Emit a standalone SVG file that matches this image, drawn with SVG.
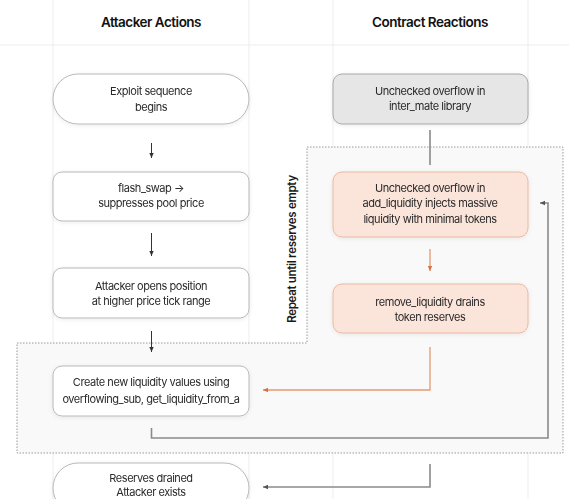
<svg xmlns="http://www.w3.org/2000/svg" width="569" height="499" viewBox="0 0 569 499">
<style>
.hdr{font-family:Inter,"Liberation Sans",sans-serif;font-size:13.5px;font-weight:600;fill:#111;text-anchor:middle;letter-spacing:-0.5px}
.t{font-family:Inter,"Liberation Sans",sans-serif;font-size:11px;fill:#2a2a2a;text-anchor:middle;letter-spacing:-0.45px}
.grid{stroke:#ededed;stroke-width:1;fill:none}
.w{fill:#fff;stroke:#b9b9b9;stroke-width:1}
.g{fill:#e6e6e6;stroke:#a8a8a8;stroke-width:1}
.o{fill:#fbe4da;stroke:#eab8a2;stroke-width:1}
.c{stroke:#333;stroke-width:1;fill:none}
.cg{stroke:#8a8a8a;stroke-width:1.6;fill:none}
.co{stroke:#e39a72;stroke-width:1.3;fill:none}
.rep{font-family:Inter,"Liberation Sans",sans-serif;font-size:11.5px;font-weight:600;fill:#1a1a1a;text-anchor:middle;letter-spacing:-0.3px}
</style>
<defs>
<marker id="ad" markerWidth="6" markerHeight="6" refX="5" refY="3" orient="auto" markerUnits="userSpaceOnUse"><path d="M0,0.8 L5,3 L0,5.2 Z" fill="#333"/></marker>
<marker id="ag" markerWidth="6" markerHeight="6" refX="5" refY="3" orient="auto" markerUnits="userSpaceOnUse"><path d="M0,0.8 L5,3 L0,5.2 Z" fill="#555"/></marker>
<marker id="ao" markerWidth="6" markerHeight="6" refX="5" refY="3" orient="auto" markerUnits="userSpaceOnUse"><path d="M0,0.8 L5,3 L0,5.2 Z" fill="#d9703f"/></marker>
<filter id="sh" x="-10%" y="-20%" width="120%" height="140%"><feDropShadow dx="0" dy="1" stdDeviation="2" flood-color="#000" flood-opacity="0.08"/></filter>
</defs>
<rect width="569" height="499" fill="#fff"/>
<g id="grid">
<line class="grid" x1="0" y1="45" x2="569" y2="45"/>
<line class="grid" x1="53" y1="0" x2="53" y2="499"/>
<line class="grid" x1="249" y1="0" x2="249" y2="499"/>
<line class="grid" x1="333" y1="0" x2="333" y2="499"/>
<line class="grid" x1="528" y1="0" x2="528" y2="499"/>
</g>
<g id="loop-region">
<path d="M307,147 H563 V453 H17 V343 H307 Z" fill="#f9f9f9" stroke="#9a9a9a" stroke-width="1" stroke-dasharray="1.5,1.5"/>
<text class="rep" transform="translate(292,249) rotate(-90)" dy="4">Repeat until reserves empty</text>
</g>
<g id="headers">
<text class="hdr" x="151" y="27">Attacker Actions</text>
<text class="hdr" x="430" y="27">Contract Reactions</text>
</g>
<g id="connectors">
<line class="c" x1="151.5" y1="143" x2="151.5" y2="158" marker-end="url(#ad)"/>
<line class="c" x1="151.5" y1="233" x2="151.5" y2="256" marker-end="url(#ad)"/>
<line class="c" x1="151.5" y1="331" x2="151.5" y2="352" marker-end="url(#ad)"/>
<line class="cg" x1="430" y1="130" x2="430" y2="165"/>
<line class="co" x1="430" y1="249" x2="430" y2="271" marker-end="url(#ao)"/>
<polyline class="co" points="430,347 430,390 263,390" marker-end="url(#ao)"/>
<polyline class="cg" points="151.5,428 151.5,438 548,438 548,203 540,203" marker-end="url(#ag)"/>
<polyline class="cg" points="430,464 430,487 263,487" marker-end="url(#ag)"/>
</g>
<g id="n-start" filter="url(#sh)">
<rect class="w" x="53" y="74" width="196" height="50" rx="25"/>
<text class="t" x="151" y="95">Exploit sequence</text>
<text class="t" x="151" y="111">begins</text>
</g>
<g id="n-inter" filter="url(#sh)">
<rect class="g" x="333" y="74" width="195" height="50" rx="9"/>
<text class="t" x="430" y="95">Unchecked overflow in</text>
<text class="t" x="430" y="110">inter_mate library</text>
</g>
<g id="n-flash" filter="url(#sh)">
<rect class="w" x="53" y="172" width="196" height="49" rx="9"/>
<text class="t" x="151" y="192">flash_swap →</text>
<text class="t" x="151" y="207">suppresses pool price</text>
</g>
<g id="n-add" filter="url(#sh)">
<rect class="o" x="333" y="172" width="195" height="65" rx="9"/>
<text class="t" x="430" y="192">Unchecked overflow in</text>
<text class="t" x="430" y="207">add_liquidity injects massive</text>
<text class="t" x="430" y="223">liquidity with minimal tokens</text>
</g>
<g id="n-open" filter="url(#sh)">
<rect class="w" x="53" y="268" width="196" height="50" rx="9"/>
<text class="t" x="151" y="290">Attacker opens position</text>
<text class="t" x="151" y="305">at higher price tick range</text>
</g>
<g id="n-remove" filter="url(#sh)">
<rect class="o" x="333" y="284" width="195" height="49" rx="9"/>
<text class="t" x="430" y="306">remove_liquidity drains</text>
<text class="t" x="430" y="321">token reserves</text>
</g>
<g id="n-create" filter="url(#sh)">
<rect class="w" x="53" y="366" width="196" height="50" rx="9"/>
<text class="t" x="151" y="386">Create new liquidity values using</text>
<text class="t" x="151" y="403">overflowing_sub, get_liquidity_from_a</text>
</g>
<g id="n-end" filter="url(#sh)">
<rect class="w" x="53" y="463" width="196" height="50" rx="25"/>
<text class="t" x="151" y="482">Reserves drained</text>
<text class="t" x="151" y="496">Attacker exists</text>
</g>
</svg>
